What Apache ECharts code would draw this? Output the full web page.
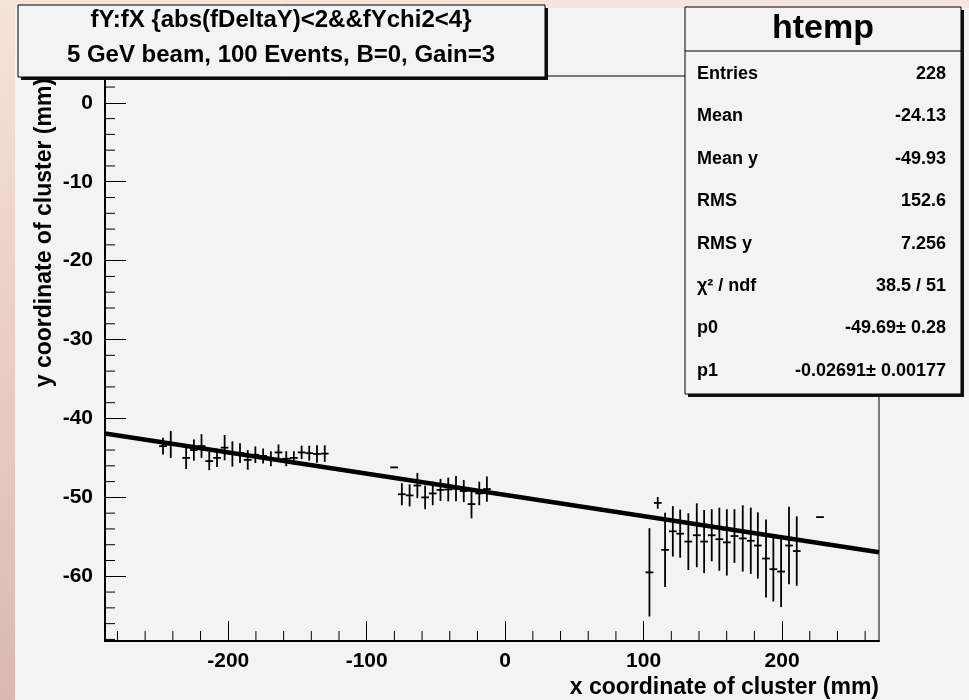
<!DOCTYPE html>
<html>
<head>
<meta charset="utf-8">
<script src="https://cdn.jsdelivr.net/npm/echarts@6/dist/echarts.min.js"></script>
<style>
html,body{margin:0;padding:0;background:#f3f3f3;}
#chart{width:969px;height:700px;}
</style>
</head>
<body>
<div id="chart"></div>
<script>
// ---- data ----
const titleLines = ['fY:fX {abs(fDeltaY)<2&&fYchi2<4}', '5 GeV beam, 100 Events, B=0, Gain=3'];
const xAxisTitle = 'x coordinate of cluster (mm)';
const yAxisTitle = 'y coordinate of cluster (mm)';
const statsTitle = 'htemp';
const statLabels = ['Entries', 'Mean', 'Mean y', 'RMS', 'RMS y', 'χ² / ndf', 'p0', 'p1'];
const statValues = ['228', '-24.13', '-49.93', '152.6', '7.256', '38.5 / 51', '-49.69± 0.28', '-0.02691± 0.00177'];
const p0 = -49.69;
const p1 = -0.02691;

const xMin = -289, xMax = 270;
const yMin = -68.2, yMax = 3.4;
const xMajorTicks = [-200, -100, 0, 100, 200];
const xMinorTicks = [-280, -260, -240, -220, -180, -160, -140, -120, -80, -60, -40, -20, 20, 40, 60, 80, 120, 140, 160, 180, 220, 240, 260];
const yMajorTicks = [0, -10, -20, -30, -40, -50, -60];
const yMinorTicks = [2, -2, -4, -6, -8, -12, -14, -16, -18, -22, -24, -26, -28, -32, -34, -36, -38, -42, -44, -46, -48, -52, -54, -56, -58, -62, -64, -66, -68];

const binHalfWidth = 2.8;

const profX = [
  -247.1, -241.5, -230.4, -224.8, -219.3, -213.7, -208.1, -202.6, -197.0, -191.5, -185.9, -180.4, -174.8, -169.2, -163.7, -158.1, -152.6, -147.0, -141.5, -135.9, -130.3,
  -80.2,
  -74.6, -69.0, -63.4, -57.8, -52.3, -46.7, -41.1, -35.5, -29.9, -24.3, -18.7, -13.2,
  104.2, 110.2, 115.5, 121.1, 126.4, 132.3, 138.4, 143.7, 149.2, 154.7, 160.1, 165.6, 171.6, 177.4, 182.5, 188.4, 193.7, 199.3, 205.0, 210.6,
  227.4
];
const profY = [
  -43.5, -43.3, -45.0, -44.0, -43.5, -45.4, -45.0, -43.7, -44.5, -44.4, -45.25, -44.6, -44.75, -45.1, -44.3, -45.1, -45.0, -44.3, -44.4, -44.5, -44.45,
  -46.2,
  -49.6, -49.75, -48.5, -50.0, -49.5, -49.05, -49.0, -48.9, -49.2, -50.85, -49.5, -48.95,
  -59.5, -50.7, -56.65, -54.3, -54.6, -55.6, -54.8, -55.6, -54.8, -55.3, -55.7, -54.9, -55.2, -55.5, -56.1, -57.75, -59.1, -59.4, -56.1, -56.8,
  -52.5
];
const profErr = [
  1.05, 1.7, 1.4, 1.35, 1.5, 1.15, 1.15, 1.6, 1.6, 1.25, 1.25, 1.05, 0.95, 0.95, 1.0, 0.95, 0.85, 0.85, 0.95, 1.1, 1.05,
  0,
  1.4, 1.4, 1.6, 1.5, 1.5, 1.4, 1.5, 1.6, 1.4, 1.8, 1.5, 1.6,
  5.6, 0.74, 4.7, 3.2, 3.05, 3.6, 4.05, 4.0, 3.3, 4.0, 4.2, 3.4, 4.2, 4.2, 4.2, 4.95, 4.1, 4.5, 4.9, 4.4,
  0
];
const fitX = [xMin, xMax];

// ---- build chart ----
const FONT = '"Liberation Sans", Arial, Helvetica, sans-serif';
const BG = '#f3f3f3';
const chart = echarts.init(document.getElementById('chart'), null, {renderer: 'canvas'});

const profData = profX.map((x, i) => [x, profY[i], profErr[i]]);
const fitData = fitX.map(x => [x, p0 + p1 * x]);
const xMinorData = xMinorTicks.map(v => [v, yMin]);
const yMinorData = yMinorTicks.map(v => [xMin, v]);

const G = {left: 105, top: 76, right: 90, bottom: 59};

const graphics = [];
graphics.push({type: 'rect', z: 1, silent: true, shape: {x: 0, y: 0, width: 969, height: 8},
  style: {fill: '#f7e5db'}});
graphics.push({type: 'rect', z: 1, silent: true, shape: {x: 0, y: 0, width: 15, height: 700},
  style: {fill: new echarts.graphic.LinearGradient(0, 0, 0, 1, [
    {offset: 0, color: '#f6e3d8'}, {offset: 1, color: '#dbb9b0'}])}});

// title box
graphics.push({type: 'rect', z: 100, silent: true, shape: {x: 21, y: 8, width: 527, height: 72}, style: {fill: '#111'}});
graphics.push({type: 'rect', z: 101, silent: true, shape: {x: 18, y: 5, width: 527, height: 72}, style: {fill: BG, stroke: '#000', lineWidth: 1}});
titleLines.forEach((t, i) => {
  graphics.push({type: 'text', z: 102, silent: true, x: 281, y: 20 + i * 35,
    style: {text: t, font: 'bold 24px ' + FONT, fill: '#000', align: 'center', verticalAlign: 'middle'}});
});

// stats box
const SB = {x: 685, y: 7, w: 276, h: 387};
graphics.push({type: 'rect', z: 100, silent: true, shape: {x: SB.x + 3, y: SB.y + 3, width: SB.w, height: SB.h}, style: {fill: '#111'}});
graphics.push({type: 'rect', z: 101, silent: true, shape: {x: SB.x, y: SB.y, width: SB.w, height: SB.h}, style: {fill: BG, stroke: '#000', lineWidth: 1}});
graphics.push({type: 'line', z: 102, silent: true, shape: {x1: SB.x, y1: 51, x2: SB.x + SB.w, y2: 51}, style: {stroke: '#000', lineWidth: 1}});
graphics.push({type: 'text', z: 102, silent: true, x: SB.x + SB.w / 2, y: 29,
  style: {text: statsTitle, font: 'bold 34px ' + FONT, fill: '#000', align: 'center', verticalAlign: 'middle'}});
statLabels.forEach((lab, i) => {
  const yy = 74 + i * 42.4;
  graphics.push({type: 'text', z: 102, silent: true, x: 697, y: yy,
    style: {text: lab, font: 'bold 18px ' + FONT, fill: '#000', align: 'left', verticalAlign: 'middle'}});
  graphics.push({type: 'text', z: 102, silent: true, x: 946, y: yy,
    style: {text: statValues[i], font: 'bold 18px ' + FONT, fill: '#000', align: 'right', verticalAlign: 'middle'}});
});

// axis titles
graphics.push({type: 'text', z: 50, silent: true, x: 879, y: 688,
  style: {text: xAxisTitle, font: 'bold 23px ' + FONT, fill: '#000', align: 'right', verticalAlign: 'middle'}});
graphics.push({type: 'text', z: 50, silent: true, x: 45, y: 78, rotation: Math.PI / 2,
  style: {text: yAxisTitle, font: 'bold 23px ' + FONT, fill: '#000', align: 'right', verticalAlign: 'middle'}});

const labelStyle = {color: '#000', fontFamily: FONT, fontWeight: 'bold', fontSize: 21};

function tickRenderer(dir, len) {
  return function (params, api) {
    const p = api.coord([api.value(0), api.value(1)]);
    const x2 = dir === 'x' ? p[0] : p[0] + len;
    const y2 = dir === 'x' ? p[1] - len : p[1];
    return {type: 'line', shape: {x1: p[0], y1: p[1], x2: x2, y2: y2},
      style: {stroke: '#000', lineWidth: 1}};
  };
}

const option = {
  animation: false,
  backgroundColor: BG,
  grid: {left: G.left, top: G.top, right: G.right, bottom: G.bottom, show: true,
    borderColor: '#000', borderWidth: 1, backgroundColor: 'transparent', containLabel: false},
  xAxis: {type: 'value', min: xMin, max: xMax, position: 'bottom',
    axisLine: {show: true, onZero: false, lineStyle: {color: '#000', width: 2}},
    axisTick: {show: true, inside: true, length: 20, customValues: xMajorTicks, lineStyle: {color: '#000', width: 1}},
    axisLabel: {show: true, customValues: xMajorTicks, margin: 10, ...labelStyle},
    splitLine: {show: false}},
  yAxis: {type: 'value', min: yMin, max: yMax, position: 'left',
    axisLine: {show: true, onZero: false, lineStyle: {color: '#000', width: 2}},
    axisTick: {show: true, inside: true, length: 21, customValues: yMajorTicks, lineStyle: {color: '#000', width: 1}},
    axisLabel: {show: true, customValues: yMajorTicks, margin: 12, ...labelStyle},
    splitLine: {show: false}},
  graphic: graphics,
  series: [
    {type: 'custom', name: 'xMinorTicks', z: 2, silent: true, clip: false,
      data: xMinorData, renderItem: tickRenderer('x', 10)},
    {type: 'custom', name: 'yMinorTicks', z: 2, silent: true, clip: false,
      data: yMinorData, renderItem: tickRenderer('y', 10)},
    {type: 'custom', name: 'profile', z: 3,
      data: profData,
      renderItem: function (params, api) {
        const x = api.value(0), y = api.value(1), e = api.value(2);
        const l = api.coord([x - binHalfWidth, y]);
        const r = api.coord([x + binHalfWidth, y]);
        const children = [{type: 'line', shape: {x1: l[0], y1: l[1], x2: r[0], y2: r[1]},
          style: {stroke: '#000', lineWidth: 1.8}}];
        if (e > 0) {
          const t = api.coord([x, y + e]);
          const b = api.coord([x, y - e]);
          children.push({type: 'line', shape: {x1: t[0], y1: t[1], x2: b[0], y2: b[1]},
            style: {stroke: '#000', lineWidth: 1.8}});
        }
        return {type: 'group', children: children};
      }},
    {type: 'line', name: 'fit', z: 4,
      data: fitData, symbol: 'none', silent: true,
      lineStyle: {color: '#000', width: 4.5}}
  ]
};
chart.setOption(option);
</script>
</body>
</html>
